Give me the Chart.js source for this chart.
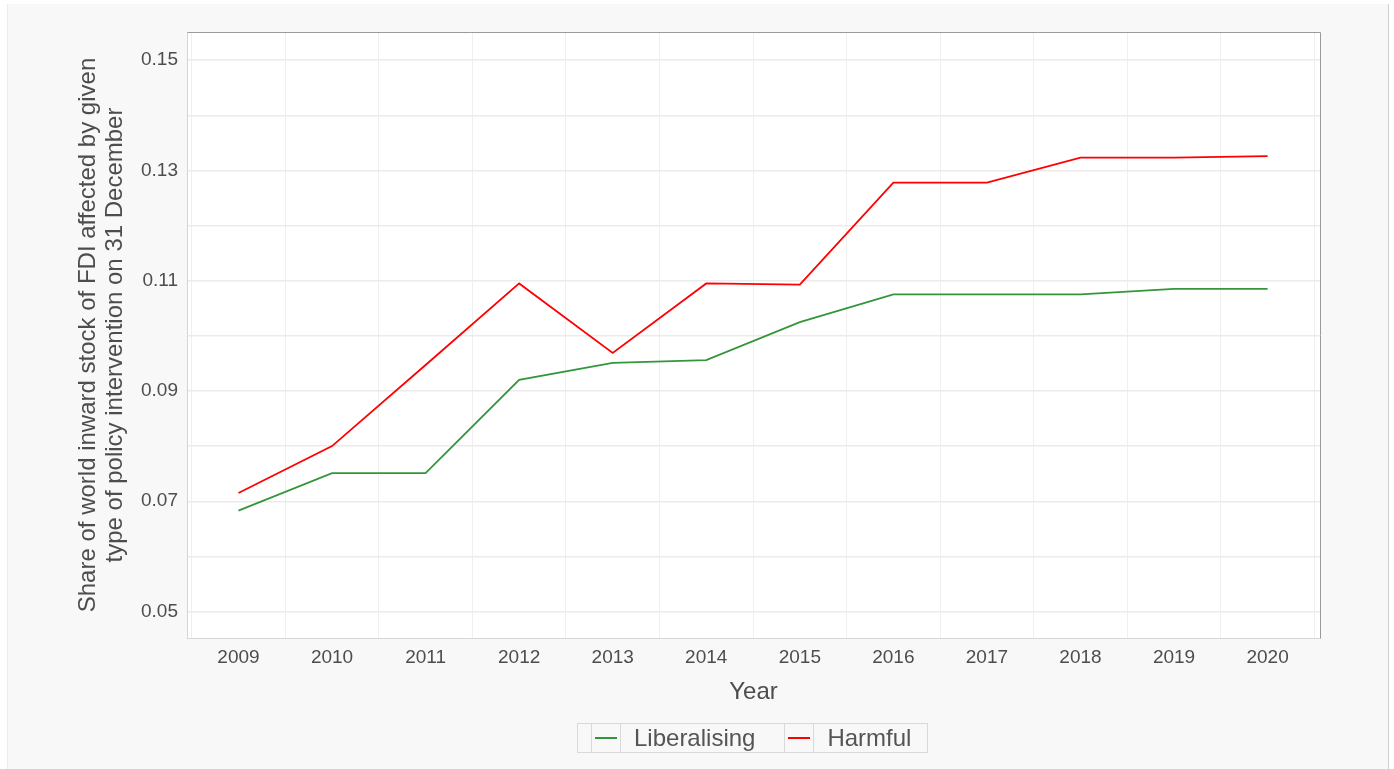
<!DOCTYPE html>
<html>
<head>
<meta charset="utf-8">
<script src="https://cdn.jsdelivr.net/npm/chart.js@4.4.0/dist/chart.umd.min.js"></script>
<style>
  html, body { margin: 0; padding: 0; background: #ffffff; overflow: hidden; }
  #panel { position: absolute; left: 7px; top: 4px; width: 1380px; height: 780px;
           background: #f8f8f8; border-left: 1px solid #ececec; border-right: 1px solid #cfcfcf; }
  #wrap { position: absolute; left: 0; top: 0; width: 1394px; height: 769px; }
  #legend { position: absolute; left: 577px; top: 723px; height: 28px; display: flex;
            border: 1px solid #d9d9d9; font-family: "Liberation Sans", Arial, sans-serif;
            font-size: 24px; color: #555555; }
  #legend .gap { width: 13px; border-right: 1px solid #d9d9d9; }
  #legend .key { width: 28px; border-right: 1px solid #d9d9d9; position: relative; }
  #legend .key span { position: absolute; left: 3px; right: 3px; top: 13px; height: 2px; }
  #legend .lab { line-height: 28px; padding: 0 16px 0 13px; }
  #legend .lab.mid { border-right: 1px solid #d9d9d9; padding-right: 29px; }
</style>
</head>
<body>
<div id="panel"></div>
<div id="wrap"><canvas id="chart"></canvas></div>
<div id="legend"></div>
<script>
// data
const years = [2009, 2010, 2011, 2012, 2013, 2014, 2015, 2016, 2017, 2018, 2019, 2020];
const liberalising = [0.0683, 0.0751, 0.0751, 0.0920, 0.0951, 0.0956, 0.1025, 0.1075, 0.1075, 0.1075, 0.1085, 0.1085];
const harmful = [0.0715, 0.0800, 0.0947, 0.1095, 0.0969, 0.1095, 0.1093, 0.1278, 0.1278, 0.1323, 0.1323, 0.1326];
const yTicks = [0.05, 0.06, 0.07, 0.08, 0.09, 0.10, 0.11, 0.12, 0.13, 0.14, 0.15];
const yLabels = ['0.05', '0.07', '0.09', '0.11', '0.13', '0.15'];

const textColor = '#4d4d4d';
const font = 'Liberation Sans, Arial, sans-serif';

// gridlines sit between the years
const xTicks = [];
years.forEach(y => { xTicks.push(y - 0.5); xTicks.push(y); });
xTicks.push(years[years.length - 1] + 0.5);

const datasets = [
    { label: 'Liberalising', data: years.map((y, i) => ({ x: y, y: liberalising[i] })), borderColor: '#33963a' },
    { label: 'Harmful', data: years.map((y, i) => ({ x: y, y: harmful[i] })), borderColor: '#ff0000' }
];
datasets.forEach(d => {
    d.borderWidth = 1.8;
    d.pointRadius = 0;
    d.tension = 0;
    d.fill = false;
});

const panelPlugin = {
    id: 'panel',
    beforeDraw(chart) {
        const { ctx, chartArea: a } = chart;
        ctx.save();
        ctx.fillStyle = '#ffffff';
        ctx.fillRect(a.left, a.top, a.right - a.left, a.bottom - a.top);
        ctx.restore();
    },
    afterDraw(chart) {
        const { ctx, chartArea: a } = chart;
        ctx.save();
        ctx.strokeStyle = '#9a9a9a';
        ctx.lineWidth = 1;
        ctx.beginPath();
        ctx.moveTo(Math.round(a.left) + 0.5, Math.round(a.top) + 0.5);
        ctx.lineTo(Math.round(a.right) + 0.5, Math.round(a.top) + 0.5);
        ctx.lineTo(Math.round(a.right) + 0.5, Math.round(a.bottom) + 0.5);
        ctx.stroke();
        ctx.restore();
    }
};

new Chart(document.getElementById('chart').getContext('2d'), {
    type: 'line',
    data: { datasets: datasets },
    plugins: [panelPlugin],
    options: {
        responsive: true,
        maintainAspectRatio: false,
        animation: false,
        layout: { padding: { left: 0, top: 32, right: 74, bottom: 0 } },
        plugins: { legend: { display: false }, tooltip: { enabled: false } },
        scales: {
            x: {
                type: 'linear',
                min: 2008.45,
                max: 2020.56,
                afterBuildTicks: s => { s.ticks = xTicks.map(v => ({ value: v })); },
                afterFit: s => { s.height = 131; },
                ticks: {
                    autoSkip: false,
                    maxRotation: 0,
                    padding: 8,
                    color: textColor,
                    font: { family: font, size: 19 },
                    callback: v => Number.isInteger(v) ? String(v) : ''
                },
                grid: {
                    drawTicks: false,
                    lineWidth: 1,
                    color: c => Number.isInteger(c.tick.value) ? 'rgba(0,0,0,0)' : '#efefef'
                },
                border: { color: '#d6d6d6', width: 1 },
                title: {
                    display: true,
                    text: 'Year',
                    color: textColor,
                    font: { family: font, size: 24 },
                    padding: { top: 0, bottom: 62 }
                }
            },
            y: {
                min: 0.0452,
                max: 0.1551,
                afterBuildTicks: s => { s.ticks = yTicks.map(v => ({ value: v })); },
                afterFit: s => { s.width = 187; },
                ticks: {
                    padding: 9,
                    color: textColor,
                    font: { family: font, size: 19 },
                    callback: v => {
                        const t = v.toFixed(2);
                        return yLabels.includes(t) ? t : '';
                    }
                },
                grid: { drawTicks: false, lineWidth: 1.4, color: '#ebebeb' },
                border: { color: '#d6d6d6', width: 1 },
                title: {
                    display: true,
                    text: ['Share of world inward stock of FDI affected by given', 'type of policy intervention on 31 December'],
                    color: textColor,
                    font: { family: font, size: 24, lineHeight: 1.125 },
                    padding: { top: 75, bottom: 0 }
                }
            }
        }
    }
});

// legend drawn as boxed cells like the original
const legend = document.getElementById('legend');
legend.innerHTML = '<div class="gap"></div>';
datasets.forEach((d, i) => {
    legend.innerHTML += '<div class="key"><span style="background:' + d.borderColor + '"></span></div>' +
        '<div class="lab' + (i === 0 ? ' mid' : '') + '">' + d.label + '</div>';
});
</script>
</body>
</html>
